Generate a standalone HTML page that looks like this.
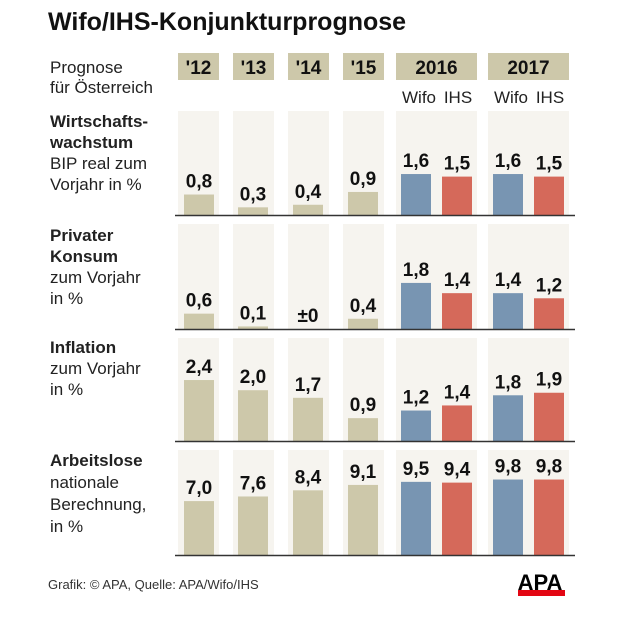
<!DOCTYPE html>
<html><head><meta charset="utf-8"><style>
body{margin:0;background:#fff;}
svg text{font-family:"Liberation Sans Narrow","Liberation Sans",sans-serif;}
</style></head><body>
<svg width="620" height="620" viewBox="0 0 620 620" id="chart">
<text x="48" y="30" font-size="25" font-weight="bold" fill="#111">Wifo/IHS-Konjunkturprognose</text>
<text x="50" y="73" font-size="17" fill="#222">Prognose</text>
<text x="50" y="93" font-size="17" fill="#222">für Österreich</text>
<g id="headers"></g>
<text x="419" y="103" font-size="17" fill="#222" text-anchor="middle">Wifo</text>
<text x="458" y="103" font-size="17" fill="#222" text-anchor="middle">IHS</text>
<text x="511" y="103" font-size="17" fill="#222" text-anchor="middle">Wifo</text>
<text x="550" y="103" font-size="17" fill="#222" text-anchor="middle">IHS</text>
<g id="rows"></g>
<g font-size="17" fill="#222">
<text x="50" y="127" font-weight="bold">Wirtschafts-</text>
<text x="50" y="148" font-weight="bold">wachstum</text>
<text x="50" y="169">BIP real zum</text>
<text x="50" y="190">Vorjahr in %</text>
<text x="50" y="241" font-weight="bold">Privater</text>
<text x="50" y="262" font-weight="bold">Konsum</text>
<text x="50" y="283">zum Vorjahr</text>
<text x="50" y="304">in %</text>
<text x="50" y="353" font-weight="bold">Inflation</text>
<text x="50" y="374">zum Vorjahr</text>
<text x="50" y="395">in %</text>
<text x="50" y="466" font-weight="bold">Arbeitslose</text>
<text x="50" y="488">nationale</text>
<text x="50" y="510">Berechnung,</text>
<text x="50" y="532">in %</text>
</g>
<text x="48" y="589" font-size="13" fill="#333">Grafik: © APA, Quelle: APA/Wifo/IHS</text>
<g>
<text x="540" y="590" font-size="22" font-weight="bold" fill="#000" text-anchor="middle" font-family="Liberation Sans, sans-serif">APA</text>
<rect x="518" y="590" width="47" height="6" fill="#e30613"/>
</g>
</svg>
<script>
const categories=["'12","'13","'14","'15","2016 Wifo","2016 IHS","2017 Wifo","2017 IHS"];
const rowNames=["wachstum","konsum","inflation","arbeitslose"];
const wachstum=[0.8,0.3,0.4,0.9,1.6,1.5,1.6,1.5];
const konsum=[0.6,0.1,0,0.4,1.8,1.4,1.4,1.2];
const inflation=[2.4,2.0,1.7,0.9,1.2,1.4,1.8,1.9];
const arbeitslose=[7.0,7.6,8.4,9.1,9.5,9.4,9.8,9.8];
const valueLabels=[
 ["0,8","0,3","0,4","0,9","1,6","1,5","1,6","1,5"],
 ["0,6","0,1","±0","0,4","1,8","1,4","1,4","1,2"],
 ["2,4","2,0","1,7","0,9","1,2","1,4","1,8","1,9"],
 ["7,0","7,6","8,4","9,1","9,5","9,4","9,8","9,8"]];
const headerLabels=["'12","'13","'14","'15","2016","2017"];
const series=[wachstum,konsum,inflation,arbeitslose];

const NS="http://www.w3.org/2000/svg";
function mk(tag,attrs,parent){const e=document.createElementNS(NS,tag);for(const k in attrs)e.setAttribute(k,attrs[k]);parent.appendChild(e);return e;}
const barX=[184,238,293,348,401,442,493,534];const barW=30;
const colBg=[[178,41],[233,41],[288,41],[343,41],[396,81],[488,81]];
const rowTop=[111,224,338,450];const rowBase=[215,329,441,555];
const scales=[25.6,25.6,25.4,7.7];
function yScale(r,v){return rowBase[r]-v*scales[r];}
const hg=document.getElementById('headers');
colBg.forEach((c,i)=>{
 const r=mk('rect',{x:c[0],y:53,width:c[1],height:27,fill:'#cdc8aa'},hg);
 
 
 const t=mk('text',{x:c[0]+c[1]/2,y:74,'font-size':19,'font-weight':'bold','text-anchor':'middle',fill:'#111'},hg);
 t.textContent=headerLabels[i];
 
 
});
const rg=document.getElementById('rows');
series.forEach((vals,r)=>{
 colBg.forEach((c,i)=>{
  const b=mk('rect',{x:c[0],y:rowTop[r],width:c[1],height:rowBase[r]-rowTop[r],fill:'#f6f4ef'},rg);
  
  
 });
 vals.forEach((v,i)=>{
  const col=i<4?'#cdc8aa':(i%2==0?'#7895b2':'#d5695a');
  const y=yScale(r,v);
  const bar=mk('rect',{x:barX[i],y:y,width:barW,height:rowBase[r]-y,fill:col},rg);
  
  
  const t=mk('text',{x:barX[i]+barW/2,y:y-7,'font-size':19,'font-weight':'bold','text-anchor':'middle',fill:'#111'},rg);
  t.textContent=valueLabels[r][i];
  
  
 });
 const l=mk('line',{x1:175,x2:575,y1:rowBase[r]+0.5,y2:rowBase[r]+0.5,stroke:'#333','stroke-width':1.5},rg);
 
 
});
</script>
</body></html>
